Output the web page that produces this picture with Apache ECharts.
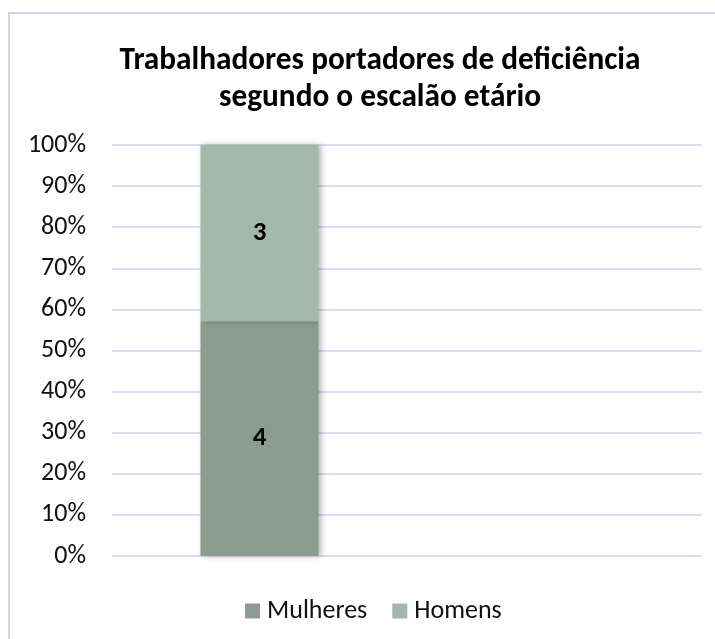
<!DOCTYPE html>
<html>
<head>
<meta charset="UTF-8">
<title>Trabalhadores portadores de deficiência</title>
<script src="https://cdn.jsdelivr.net/npm/echarts@6/dist/echarts.min.js"></script>
<style>
  html, body { margin: 0; padding: 0; background: #fff; }
  #main { width: 715px; height: 639px; }
</style>
</head>
<body>
<div id="main"></div>
<script>
// dados
var categorias = ['', ''];
var mulheres = [4, null];
var homens = [3, null];
var nomes = ['Mulheres', 'Homens'];
var ticksY = [0, 10, 20, 30, 40, 50, 60, 70, 80, 90, 100];

// 100% empilhado: converte para percentagem mas mantém o valor como rótulo
function pct(a, b) {
    return a.map(function(v, i) {
        var t = (a[i] || 0) + (b[i] || 0);
        if (v == null || !t) return null;
        return { value: v / t * 100, raw: v };
    });
}

var fonte = 'Calibri, Carlito, "Open Sans", "Noto Sans", sans-serif';
var myChart = echarts.init(document.getElementById('main'));

var labelCfg = {
    show: true,
    position: 'inside',
    formatter: function(p) { return p.data.raw; },
    color: '#000',
    fontWeight: 'bold',
    fontSize: 27,
    fontFamily: fonte
};

var option = {
    animation: false,
    backgroundColor: '#fff',
    graphic: [{
        type: 'rect',
        shape: { x: 9, y: 13, width: 730, height: 660 },
        style: { fill: 'none', stroke: '#d6d1ef', lineWidth: 2 },
        silent: true
    }],
    title: {
        text: 'Trabalhadores portadores de deficiência\nsegundo o escalão etário',
        left: 375,
        top: 38,
        textAlign: 'center',
        textStyle: {
            fontFamily: fonte,
            fontSize: 31.3,
            fontWeight: 'bold',
            color: '#000',
            lineHeight: 37
        }
    },
    legend: {
        top: 593,
        left: 240,
        itemWidth: 15,
        itemHeight: 15,
        itemGap: 25,
        icon: 'rect',
        data: nomes,
        textStyle: { fontFamily: fonte, fontSize: 26, color: '#111', padding: [0, 0, 0, 2] }
    },
    grid: { left: 112, right: 13, top: 145, bottom: 83 },
    xAxis: {
        type: 'category',
        data: categorias,
        axisLine: { show: false },
        axisTick: { show: false },
        axisLabel: { show: false }
    },
    yAxis: {
        type: 'value',
        min: ticksY[0],
        max: ticksY[ticksY.length - 1],
        interval: 10,
        axisLine: { show: false },
        axisTick: { show: false },
        axisLabel: {
            formatter: '{value}%',
            margin: 26,
            fontFamily: fonte,
            fontSize: 26,
            color: '#111'
        },
        splitLine: { lineStyle: { color: '#d3ceef', width: 1.5 } }
    },
    series: [{
        name: nomes[0],
        type: 'bar',
        stack: 'total',
        barWidth: '40%',
        data: pct(mulheres, homens),
        itemStyle: {
            color: '#8c9c91',
            shadowBlur: 6,
            shadowOffsetX: 2,
            shadowColor: 'rgba(0,0,0,0.3)'
        },
        label: labelCfg
    }, {
        name: nomes[1],
        type: 'bar',
        stack: 'total',
        barWidth: '40%',
        data: pct(homens, mulheres),
        itemStyle: {
            color: '#a2b8ab',
            shadowBlur: 6,
            shadowOffsetX: 2,
            shadowColor: 'rgba(0,0,0,0.3)'
        },
        label: labelCfg
    }]
};

myChart.setOption(option);
</script>
</body>
</html>
